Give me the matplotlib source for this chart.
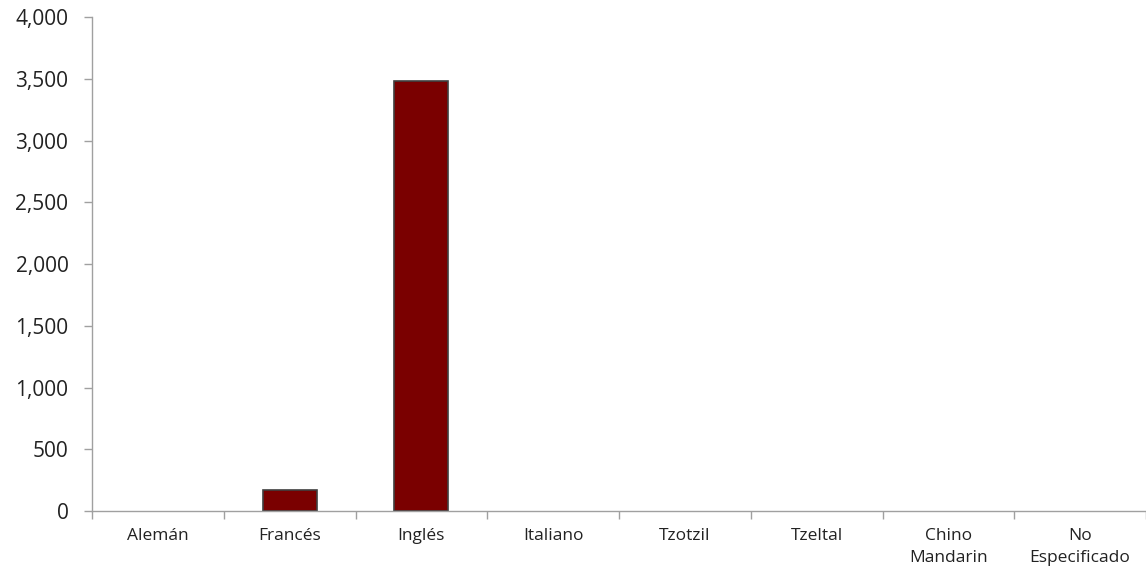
import numpy as np
import matplotlib.pyplot as plt
from matplotlib.ticker import FuncFormatter, FixedLocator

idiomas = ["Alemán", "Francés", "Inglés", "Italiano", "Tzotzil", "Tzeltal",
           "Chino\nMandarin", "No\nEspecificado"]
hablantes = [0, 170, 3483, 0, 0, 0, 0, 0]

plt.rcParams['font.family'] = ['Open Sans', 'DejaVu Sans']

fig = plt.figure(figsize=(11.46, 5.73), dpi=100)
ax = fig.add_axes([0.0803, 0.108, 0.9197, 0.862])

x = np.arange(len(idiomas))
# bars with value 0 get no outline, as in the original
lw = [1.2 if v > 0 else 0 for v in hablantes]
ax.bar(x, hablantes, width=0.41, color="#7a0000", edgecolor="#404040", linewidth=lw)

ax.set_xlim(-0.5, len(idiomas) - 0.5)
ax.set_ylim(0, 4000)
ax.set_yticks(np.arange(0, 4001, 500))
ax.yaxis.set_major_formatter(FuncFormatter(lambda v, p: f"{int(v):,}"))

ax.set_xticks(x)
ax.set_xticklabels(idiomas, fontsize=12.5, color="#222222", linespacing=1.5)
ax.xaxis.set_minor_locator(FixedLocator(np.arange(-0.5, len(idiomas), 1)))
ax.tick_params(axis="x", which="major", length=0, pad=12)
ax.tick_params(axis="x", which="minor", length=6, color="#a0a0a0", width=1)
ax.tick_params(axis="y", length=6, color="#a0a0a0", width=1, labelsize=15,
               labelcolor="#222222", pad=11)

for s in ["top", "right"]:
    ax.spines[s].set_visible(False)
for s in ["left", "bottom"]:
    ax.spines[s].set_color("#a0a0a0")
    ax.spines[s].set_linewidth(1)

fig.savefig("out.png", dpi=100)
